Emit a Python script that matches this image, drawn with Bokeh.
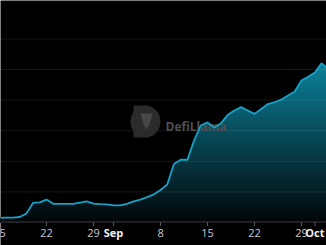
import numpy as np
import pandas as pd
from bokeh.plotting import figure
from bokeh.models import Range1d, ColumnDataSource
from bokeh.core.properties import value
from bokeh.embed import file_html
from bokeh.resources import INLINE

# ---- data (arbitrary units, gridline step = 1) ----
start_date = "2023-08-15"
dates = pd.date_range(start_date, periods=50, freq="D")
tvl = [0.15, 0.16, 0.16, 0.18, 0.29, 0.64, 0.66, 0.75, 0.61, 0.61,
       0.61, 0.61, 0.65, 0.69, 0.62, 0.60, 0.59, 0.56, 0.56, 0.61,
       0.69, 0.75, 0.83, 0.92, 1.06, 1.24, 1.91, 2.05, 2.05, 2.68,
       3.17, 3.27, 3.10, 3.24, 3.51, 3.66, 3.77, 3.66, 3.55, 3.71,
       3.87, 3.93, 4.02, 4.15, 4.28, 4.64, 4.76, 4.90, 5.20, 5.03]
tick_dates = ["2023-08-15", "2023-08-22", "2023-08-29", "2023-09-01", "2023-09-08",
              "2023-09-15", "2023-09-22", "2023-09-29", "2023-10-01"]
tick_labels = ["15", "22", "29", "Sep", "8", "15", "22", "29", "Oct"]
tick_bold = [False, False, False, True, False, False, False, False, True]
grid_levels = [1, 2, 3, 4, 5, 6]

W, H = 326, 245
t0 = pd.Timestamp(start_date)
x = np.array([(d - t0).days for d in dates], dtype=float)
v = np.array(tvl)
tx = np.array([(pd.Timestamp(d) - t0).days for d in tick_dates], dtype=float)

# pixel helpers (layout only)
PX_PER_DAY = 6.71
PX_PER_UNIT = 30.6
BASE_Y = 222.0
def dx(px):
    return (px + 1.0) / PX_PER_DAY
def vy(py):
    return (BASE_Y - py) / PX_PER_UNIT

p = figure(width=W, height=H, output_backend="svg", toolbar_location=None,
           x_axis_type=None, y_axis_type=None, min_border=0,
           x_range=Range1d(dx(0), dx(W)), y_range=Range1d(vy(H), vy(0)))
p.background_fill_color = "black"
p.border_fill_color = "black"
p.outline_line_color = None

# gradient area fill via stacked bands (top color first, lower bands painted over)
N = 90
top = 5.35
bot_c = np.array([2, 6, 8], dtype=float)
top_c = np.array([12, 130, 155], dtype=float)
for k in range(N - 1, -1, -1):
    hi = (k + 1) * top / N
    mid = (k + 0.5) * top / N
    c = bot_c + (top_c - bot_c) * (mid / 5.2)
    c = np.clip(c, 0, 255).astype(int)
    col = "#%02x%02x%02x" % tuple(c)
    p.varea(x=x, y1=np.zeros_like(v), y2=np.minimum(v, hi), fill_color=col, fill_alpha=1.0)

# horizontal grid
for g in grid_levels:
    p.line(x=[dx(-5), dx(W + 5)], y=[g, g], line_color="white", line_alpha=0.09, line_width=1)

# watermark
p.quad(left=[dx(133)], right=[dx(146)], bottom=[vy(137)], top=[vy(105)],
       fill_color="#2b2b2b", line_color=None)
p.ellipse(x=[dx(145)], y=[vy(121)], width=30, height=32, width_units="screen",
          height_units="screen", fill_color="#2b2b2b", line_color=None)
p.patch(x=[dx(140), dx(152), dx(149), dx(146), dx(143)],
        y=[vy(113), vy(113), vy(124), vy(129), vy(124)],
        fill_color="#474747", line_color=None)
p.text(x=[dx(165)], y=[vy(126)], text=["DefiLlama"], text_font=value("Open Sans"),
       text_font_size="12px", text_font_style="bold", text_color="#4f4f4f",
       text_baseline="alphabetic", text_align="left")

# series line
p.line(x=x, y=v, line_color="#16a2c6", line_width=1.8)

# x axis (line, ticks, labels)
p.line(x=[dx(-5), dx(W + 5)], y=[vy(221.5), vy(221.5)], line_color="#3d3d3d", line_width=1)
p.segment(x0=tx, y0=np.full_like(tx, vy(221.5)), x1=tx, y1=np.full_like(tx, vy(225.5)),
          line_color="#5a5a5a", line_width=1)
norm = ColumnDataSource(dict(x=[a for a, b in zip(tx, tick_bold) if not b],
                             t=[l for l, b in zip(tick_labels, tick_bold) if not b]))
bold = ColumnDataSource(dict(x=[a for a, b in zip(tx, tick_bold) if b],
                             t=[l for l, b in zip(tick_labels, tick_bold) if b]))
p.text(x="x", y=vy(232), text="t", source=norm, text_font=value("Open Sans"),
       text_font_size="11px", text_color="#c8c8c8", text_align="center",
       text_baseline="middle")
p.text(x="x", y=vy(232), text="t", source=bold, text_font=value("Open Sans"),
       text_font_size="11px", text_font_style="bold", text_color="#f0f0f0",
       text_align="center", text_baseline="middle")

open("out.html", "w").write(file_html(p, INLINE))
